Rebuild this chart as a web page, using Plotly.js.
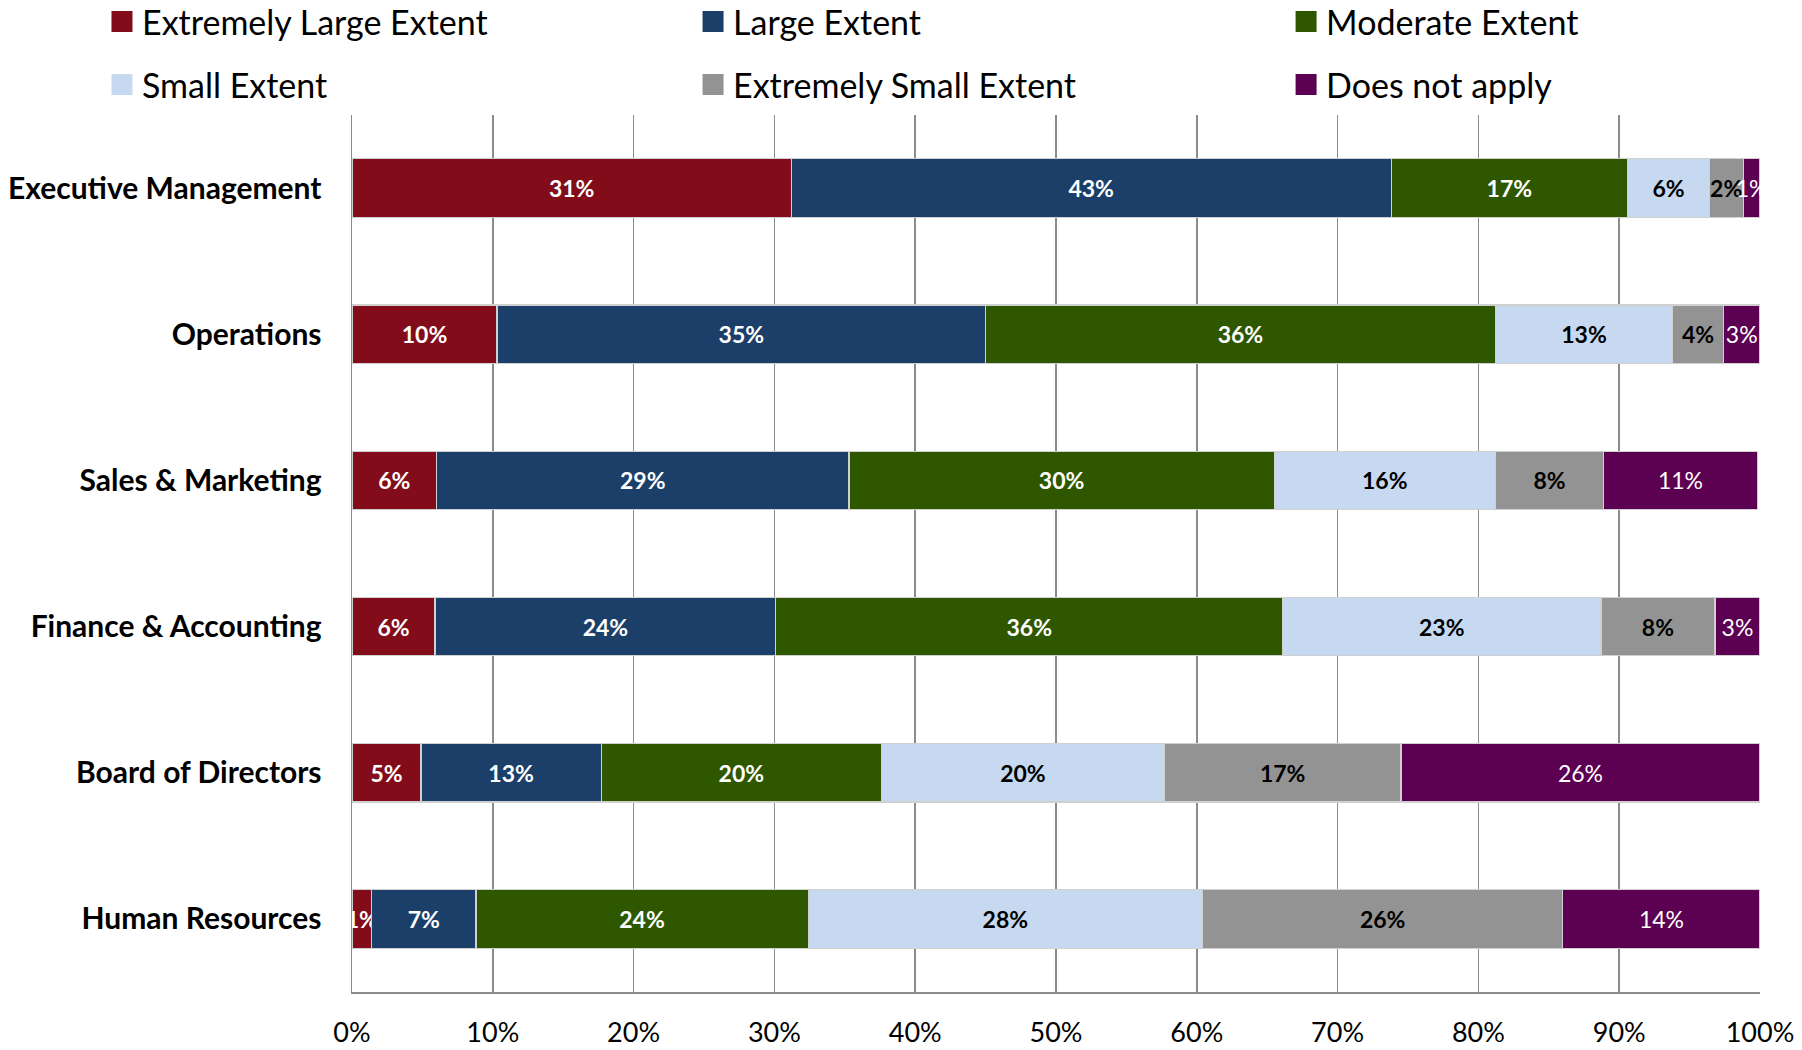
<!DOCTYPE html>
<html>
<head>
<meta charset="utf-8">
<script src="https://cdn.plot.ly/plotly-3.0.1.min.js"></script>
<style>html,body{margin:0;padding:0;background:#fff;}#chart{width:1802px;height:1050px;}</style>
</head>
<body>
<div id="chart"></div>
<script>
const categories = ["Executive Management", "Operations", "Sales & Marketing", "Finance & Accounting", "Board of Directors", "Human Resources"];
const seriesNames = ["Extremely Large Extent", "Large Extent", "Moderate Extent", "Small Extent", "Extremely Small Extent", "Does not apply"];
const extremelyLarge = [31.2, 10.3, 6.0, 5.9, 4.9, 1.4];
const large          = [42.6, 34.7, 29.3, 24.2, 12.8, 7.4];
const moderate       = [16.8, 36.2, 30.2, 36.0, 19.9, 23.6];
const small          = [5.8, 12.6, 15.7, 22.6, 20.1, 28.0];
const extremelySmall = [2.4, 3.6, 7.7, 8.1, 16.8, 25.6];
const doesNotApply   = [1.2, 2.6, 10.9, 3.2, 25.5, 14.0];
const xTickValues = [0, 10, 20, 30, 40, 50, 60, 70, 80, 90, 100];
const xTickLabels = ["0%", "10%", "20%", "30%", "40%", "50%", "60%", "70%", "80%", "90%", "100%"];

const seriesValues = [extremelyLarge, large, moderate, small, extremelySmall, doesNotApply];
const colors = ["#820c1a", "#1c3f6a", "#2e5700", "#c6d9f0", "#939393", "#5c0052"];
const textColors = ["#ffffff", "#ffffff", "#ffffff", "#000000", "#000000", "#ffffff"];
const textWeights = ["bold", "bold", "bold", "bold", "bold", "normal"];
const FONT = "Lato, 'Open Sans', sans-serif";

// legend slot positions (container fractions): 3 columns x 2 rows
const legendX = [0.0566, 0.3846, 0.7137];
const legendY = [1 - 22 / 1050, 1 - 85 / 1050];
const legendIds = ["legend", "legend2", "legend3", "legend4", "legend5", "legend6"];

const barTraces = seriesValues.map((vals, i) => ({
  type: "bar",
  orientation: "h",
  name: seriesNames[i],
  y: categories,
  x: vals,
  marker: { color: colors[i], line: { color: "#d0d0d0", width: 1.2 } },
  texttemplate: "%{x:.0f}%",
  textposition: "inside",
  insidetextanchor: "middle",
  textangle: 0,
  constraintext: "none",
  cliponaxis: false,
  insidetextfont: { family: FONT, size: 23, color: textColors[i], weight: textWeights[i] },
  hoverinfo: "name+x",
  showlegend: false
}));

// legend-only entries with larger square swatches
const legendTraces = seriesNames.map((name, i) => ({
  type: "scatter",
  mode: "markers",
  name: name,
  x: [null], y: [null],
  marker: { symbol: "square", size: 16, color: colors[i], line: { color: colors[i], width: 5 } },
  showlegend: true,
  legend: legendIds[i],
  hoverinfo: "skip"
}));

const layout = {
  width: 1802, height: 1050,
  paper_bgcolor: "#ffffff", plot_bgcolor: "#ffffff",
  margin: { l: 352, r: 42, t: 115, b: 58, autoexpand: false },
  barmode: "stack",
  bargap: 0.6,
  showlegend: true,
  xaxis: {
    range: [0, 100],
    tickvals: xTickValues,
    ticktext: xTickLabels,
    showgrid: true, gridcolor: "#8c8c8c", gridwidth: 1.5,
    zeroline: false,
    showline: true, linecolor: "#8c8c8c", linewidth: 1.5,
    ticks: "", ticklabelstandoff: 16,
    tickfont: { family: FONT, size: 27, color: "#000000" },
    fixedrange: true
  },
  yaxis: {
    autorange: "reversed",
    type: "category",
    categoryorder: "array", categoryarray: categories,
    showgrid: false, zeroline: false,
    showline: true, linecolor: "#8c8c8c", linewidth: 1.5,
    ticks: "", ticklabelstandoff: 23,
    tickfont: { family: FONT, size: 30, color: "#000000", weight: "bold" },
    fixedrange: true
  },
  font: { family: FONT }
};

legendIds.forEach((id, i) => {
  layout[id] = {
    orientation: "h",
    xref: "container", yref: "container",
    xanchor: "left", yanchor: "middle",
    x: legendX[i % 3], y: legendY[Math.floor(i / 3)],
    font: { family: FONT, size: 34, color: "#000000" },
    itemwidth: 30,
    itemsizing: "trace",
    bgcolor: "rgba(0,0,0,0)"
  };
});

Plotly.newPlot("chart", barTraces.concat(legendTraces), layout, { displayModeBar: false, staticPlot: true });
</script>
</body>
</html>
